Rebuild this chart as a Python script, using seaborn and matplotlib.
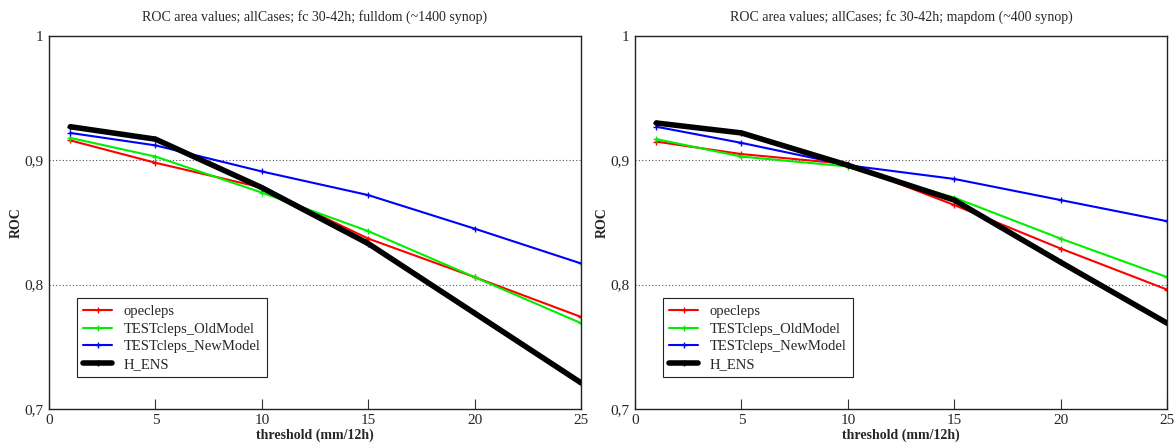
import numpy as np
import pandas as pd
import matplotlib
matplotlib.use("Agg")
import matplotlib.pyplot as plt
import seaborn as sns
from matplotlib.ticker import FuncFormatter

# === Data ===
thresholds = [1, 5, 10, 15, 20, 25]
models = ["opecleps", "TESTcleps_OldModel", "TESTcleps_NewModel", "H_ENS"]

full_opecleps = [0.916, 0.898, 0.878, 0.837, 0.806, 0.774]
full_old = [0.918, 0.903, 0.874, 0.843, 0.806, 0.769]
full_new = [0.922, 0.912, 0.891, 0.872, 0.845, 0.817]
full_hens = [0.927, 0.917, 0.878, 0.833, 0.777, 0.721]

map_opecleps = [0.915, 0.905, 0.897, 0.864, 0.829, 0.796]
map_old = [0.917, 0.903, 0.895, 0.870, 0.837, 0.806]
map_new = [0.927, 0.914, 0.896, 0.885, 0.868, 0.851]
map_hens = [0.930, 0.922, 0.896, 0.868, 0.818, 0.769]

titles = ["ROC area values; allCases; fc 30-42h; fulldom (~1400 synop)",
          "ROC area values; allCases; fc 30-42h; mapdom (~400 synop)"]


def long_df(series):
    rows = []
    for name, vals in zip(models, series):
        for t, v in zip(thresholds, vals):
            rows.append({"threshold": t, "ROC": v, "model": name})
    return pd.DataFrame(rows)


panels = [long_df([full_opecleps, full_old, full_new, full_hens]),
          long_df([map_opecleps, map_old, map_new, map_hens])]

# === Style ===
sns.set_style("white")
plt.rcParams["font.family"] = ["Liberation Serif", "DejaVu Serif"]

palette = {"opecleps": "#ff0000", "TESTcleps_OldModel": "#00ee00",
           "TESTcleps_NewModel": "#0000ff", "H_ENS": "#000000"}
widths = {"opecleps": 1.5, "TESTcleps_OldModel": 1.5,
          "TESTcleps_NewModel": 1.5, "H_ENS": 4.0}

fig = plt.figure(figsize=(11.76, 4.44), dpi=100)
axes = [fig.add_axes([0.0417, 0.079, 0.4524, 0.840]),
        fig.add_axes([0.540, 0.079, 0.4524, 0.840])]

comma = FuncFormatter(lambda v, p: "1" if abs(v - 1) < 1e-9 else f"{v:.1f}".replace(".", ","))

for ax, df, title in zip(axes, panels, titles):
    for name in models:
        sub = df[df["model"] == name]
        sns.lineplot(data=sub, x="threshold", y="ROC", ax=ax, color=palette[name],
                     linewidth=widths[name], marker="+", markersize=4,
                     markeredgewidth=1, markeredgecolor=palette[name], label=name)
    ax.set_xlim(0, 25)
    ax.set_ylim(0.7, 1.0)
    ax.set_xticks([0, 5, 10, 15, 20, 25])
    ax.set_yticks([0.7, 0.8, 0.9, 1.0])
    ax.yaxis.set_major_formatter(comma)
    ax.tick_params(axis="x", direction="in", length=7, width=0.8, labelsize=11,
                   pad=4, bottom=True, color="#333333")
    ax.tick_params(axis="y", length=0, labelsize=11, pad=4)
    for y in [0.8, 0.9]:
        ax.axhline(y, color="#555555", linestyle=(0, (1, 2)), linewidth=0.8, zorder=0)
    for s in ax.spines.values():
        s.set_color("#222222")
        s.set_linewidth(1.0)
    ax.set_title(title, fontsize=10, pad=11)
    ax.set_xlabel("threshold (mm/12h)", fontsize=10, fontweight="bold", labelpad=1)
    ax.set_ylabel("ROC", fontsize=10, fontweight="bold", labelpad=1)
    leg = ax.legend(loc="lower left", bbox_to_anchor=(0.038, 0.065), fontsize=10.5,
                    frameon=True, fancybox=False, framealpha=1, borderpad=0.45,
                    handlelength=2.0, labelspacing=0.3)
    leg.get_frame().set_edgecolor("#222222")
    leg.get_frame().set_linewidth(0.8)

fig.savefig("out.png", dpi=100)
